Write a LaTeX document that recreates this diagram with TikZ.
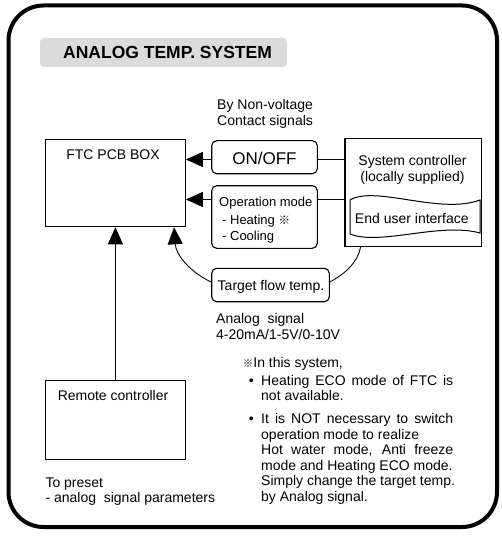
\documentclass[tikz,border=0pt]{standalone}
\usepackage{fontspec}
\setmainfont{Liberation Sans}
\newfontfamily\cjk{Noto Sans CJK JP}
\usetikzlibrary{arrows.meta}
\newcommand{\refmark}{{\cjk\fontsize{10.5}{10}\selectfont ※}}
\newcommand{\refmarkb}{{\cjk\fontsize{11.5}{11}\selectfont ※}}
\begin{document}
\begin{tikzpicture}[x=1pt,y=-1pt,
  box/.style={draw, line width=1.1pt, inner sep=0pt},
  rbox/.style={box, rounded corners=5pt},
  arr/.style={-{Triangle[length=17pt,width=15pt]}, line width=1.1pt},
  conn/.style={line width=1.1pt},
  curve/.style={line width=0.9pt},
  txt/.style={inner sep=0pt, font=\fontsize{14}{16}\selectfont},
  smalltxt/.style={inner sep=0pt, font=\fontsize{13}{15}\selectfont}]
\useasboundingbox (0,0) rectangle (502,540);

% frame and title
\node[draw, line width=4pt, rounded corners=35pt, minimum width=488.5pt, minimum height=521.5pt, inner sep=0pt] (frame) at (252.75,266.25) {};
\node[fill=black!14, rounded corners=4pt, minimum width=247pt, minimum height=29pt, inner sep=0pt] (titlebg) at (163.5,52.5) {};
\node[anchor=west, inner sep=0pt, font=\bfseries\fontsize{17.5}{20}\selectfont] (title) at (63,52.8) {ANALOG TEMP. SYSTEM};

% boxes
\node[box, minimum width=140pt, minimum height=87.4pt] (ftc) at (115.3,183) {};
\node[txt, anchor=base] (ftct) at (113,159.5) {FTC PCB BOX};

\node[rbox, minimum width=105.6pt, minimum height=33pt] (onoff) at (264.5,157.2) {};
\node[inner sep=0pt, font=\fontsize{17}{19}\selectfont, anchor=base] (onofft) at (264.5,164.8) {ON/OFF};

\node[rbox, minimum width=105.6pt, minimum height=62.6pt] (opmode) at (264.5,217) {};
\node[smalltxt, anchor=base west] (op1) at (219,206.7) {Operation mode};
\node[smalltxt, anchor=base west] (op2) at (222,224) {- Heating \refmarkb};
\node[smalltxt, anchor=base west] (op3) at (222,240.3) {- Cooling};

\node[box, minimum width=136.7pt, minimum height=108pt] (sys) at (413.3,192.7) {};
\node[txt, anchor=base] (sys1) at (412.5,165) {System controller};
\node[txt, anchor=base] (sys2) at (412.5,181) {(locally supplied)};
\draw[line width=1pt] (350,200) .. controls (375,185) and (440,215) .. (480,200)
  -- (480,233) .. controls (440,222) and (380,246) .. (350,234) -- cycle;
\node[txt, anchor=base] (eui) at (411.8,223) {End user interface};

\node[rbox, minimum width=117.6pt, minimum height=33.4pt] (target) at (270.5,285) {};
\node[txt, anchor=base] (targett) at (271,290.5) {Target flow temp.};

\node[box, minimum width=140.2pt, minimum height=79.3pt] (remote) at (115.4,419.7) {};
\node[txt, anchor=base] (remotet) at (113,400) {Remote controller};

% labels
\node[txt, anchor=base west] (bnv1) at (217,110) {By Non-voltage};
\node[txt, anchor=base west] (bnv2) at (217,126) {Contact signals};
\node[txt, anchor=base west] (an1) at (216,323.3) {Analog\ \ signal};
\node[txt, anchor=base west] (an2) at (216,339.3) {4-20mA/1-5V/0-10V};
\node[txt, anchor=base west] (tp1) at (45.3,487.7) {To preset};
\node[txt, anchor=base west] (tp2) at (45.3,502.3) {- analog\ \ signal parameters};

% note
\node[txt, anchor=base west] (n0) at (242.7,367.7) {\refmark In this system,};
\node[txt, anchor=base west] (n1) at (261,385) {\llap{•\hspace{7.5pt}}\makebox[192pt][s]{Heating ECO mode of FTC is}};
\node[txt, anchor=base west] (n2) at (261,400.7) {not available.};
\node[txt, anchor=base west] (n3) at (261,423.3) {\llap{•\hspace{7.5pt}}\makebox[192pt][s]{It is NOT necessary to switch}};
\node[txt, anchor=base west] (n4) at (261,439) {operation mode to realize};
\node[txt, anchor=base west] (n5) at (261,454.3) {\makebox[192pt][s]{Hot water mode, Anti freeze}};
\node[txt, anchor=base west] (n6) at (261,470) {mode and Heating ECO mode.};
\node[txt, anchor=base west] (n7) at (261,485) {Simply change the target temp.};
\node[txt, anchor=base west] (n8) at (261,501) {by Analog signal.};

% connectors
\coordinate (l1) at (0,159.5);
\coordinate (l2) at (0,199.5);
\coordinate (ftcin) at (174,0);
\coordinate (sysin) at (360.5,0);
\draw[arr] (onoff.west |- l1) -- (ftc.east |- l1);
\draw[conn] (onoff.east |- l1) -- (sys.west |- l1);
\draw[arr] (opmode.west |- l2) -- (ftc.east |- l2);
\draw[conn] (opmode.east |- l2) -- (sys.west |- l2);
\draw[arr] (remote.north) -- (remote.north |- ftc.south);
\draw[arr, curve] ([yshift=3pt]target.west) .. controls (190,272) and (176,255) .. (ftc.south -| ftcin);
\draw[curve] ([yshift=3pt]target.east) .. controls (345,274) and (358,262) .. (sys.south -| sysin);
\end{tikzpicture}
\end{document}
